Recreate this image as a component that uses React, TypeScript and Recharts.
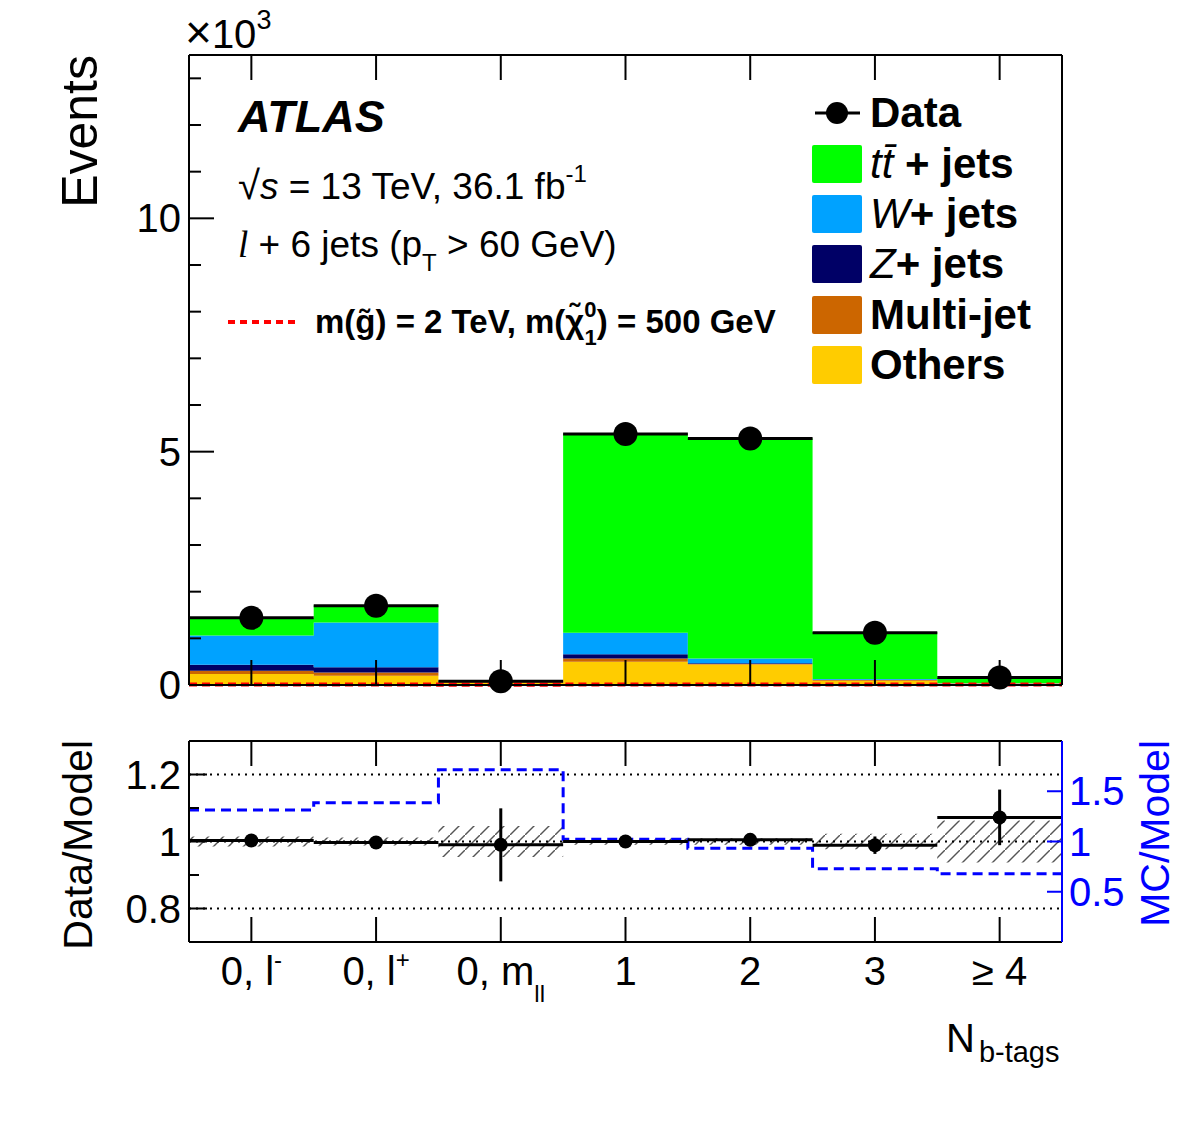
import React from "react";
import {
  ComposedChart,
  Area,
  Line,
  Scatter,
  ErrorBar,
  XAxis,
  YAxis,
  ReferenceLine,
} from "recharts";

const FONT = "'Liberation Sans', Arial, Helvetica, sans-serif";

// N b-tags categories: label text, superscript, subscript
const binLabels = ["0, l", "0, l", "0, m", "1", "2", "3", "\u2265 4"];
const binSup = ["-", "+", "", "", "", "", ""];
const binSub = ["", "", "ll", "", "", "", ""];

// stacked backgrounds, events x10^3
const others = [0.236, 0.2, 0.05, 0.5, 0.44, 0.09, 0.03];
const multijet = [0.071, 0.07, 0.015, 0.07, 0.01, 0.015, 0.005];
const zjets = [0.129, 0.109, 0.01, 0.087, 0.014, 0.005, 0.002];
const wjets = [0.624, 0.961, 0.01, 0.463, 0.106, 0.02, 0.005];
const ttbar = [0.37, 0.37, 0.008, 4.27, 4.72, 1.006, 0.115];
const dataObs = [1.44, 1.7, 0.08, 5.38, 5.28, 1.12, 0.16];
const signal = [0.012, 0.012, 0.006, 0.012, 0.012, 0.012, 0.012];

// ratio panel
const dataRatio = [1.003, 0.997, 0.99, 1.0, 1.005, 0.989, 1.072];
const dataRatioErr = [0.008, 0.007, 0.109, 0.004, 0.004, 0.026, 0.083];
const bandErr = [0.015, 0.012, 0.046, 0.01, 0.01, 0.023, 0.063];
const mcModel = [1.313, 1.385, 1.714, 1.023, 0.934, 0.73, 0.678];

// axis ticks
const eventTicks = [0, 1, 2, 3, 4, 5, 6, 7, 8, 9, 10, 11, 12, 13];
const eventMajor = [0, 5, 10];
const ratioTicks = [0.8, 0.9, 1, 1.1, 1.2];
const ratioMajor = [0.8, 1, 1.2];
const mcTicks = [0.5, 1, 1.5];

const stack = [
  { key: "others", name: "Others", color: "#ffcc00" },
  { key: "multijet", name: "Multi-jet", color: "#cc6600" },
  { key: "zjets", name: "Z", color: "#000066" },
  { key: "wjets", name: "W", color: "#00a2ff" },
  { key: "ttbar", name: "tt", color: "#00ff00" },
];

const nBins = binLabels.length;
const centers = binLabels.map((_, i) => i + 0.5);

// histogram rows at bin edges (last edge closes the step)
const histRows = Array.from({ length: nBins + 1 }, (_, k) => {
  const i = Math.min(k, nBins - 1);
  return {
    x: k,
    others: others[i],
    multijet: multijet[i],
    zjets: zjets[i],
    wjets: wjets[i],
    ttbar: ttbar[i],
    signal: signal[i],
    band: [1 - bandErr[i], 1 + bandErr[i]],
    mc: mcModel[i],
  };
});

const dataPts = centers.map((x, i) => ({ x, y: dataObs[i], xerr: 0.5 }));
const ratioPts = centers.map((x, i) => ({
  x,
  y: dataRatio[i],
  yerr: dataRatioErr[i],
  xerr: 0.5,
}));

const W = 1182;

const xTick = (len: number, down: boolean, label: boolean) => (p: any) => {
  const i = Math.floor(p.payload.value);
  return (
    <g>
      <line
        x1={p.x}
        x2={p.x}
        y1={p.y}
        y2={down ? p.y + len : p.y - len}
        stroke="#000"
        strokeWidth={2}
      />
      {label && (
        <text
          x={p.x}
          y={p.y + 43}
          textAnchor="middle"
          fontSize={40}
          fontFamily={FONT}
          fill="#000"
        >
          {binLabels[i]}
          {binSup[i] && (
            <tspan dy={-17} fontSize={24}>
              {binSup[i]}
            </tspan>
          )}
          {binSub[i] && (
            <tspan dy={17} fontSize={24}>
              {binSub[i]}
            </tspan>
          )}
        </text>
      )}
    </g>
  );
};

const yTick =
  (
    major: number[],
    lenMaj: number,
    lenMin: number,
    side: number,
    color: string,
    labels: boolean
  ) =>
  (p: any) => {
    const v = p.payload.value;
    const isMaj = major.some((m) => Math.abs(m - v) < 1e-6);
    const len = isMaj ? lenMaj : lenMin;
    return (
      <g>
        <line
          x1={p.x}
          x2={p.x + side * len}
          y1={p.y}
          y2={p.y}
          stroke={color}
          strokeWidth={2}
        />
        {labels && isMaj && (
          <text
            x={side === 1 ? p.x - 8 : p.x + 7}
            y={p.y + 14}
            textAnchor={side === 1 ? "end" : "start"}
            fontSize={40}
            fontFamily={FONT}
            fill={color}
          >
            {String(v)}
          </text>
        )}
      </g>
    );
  };

function TopPanel() {
  return (
    <ComposedChart
      width={W}
      height={715}
      data={histRows}
      margin={{ top: 25, right: 80, bottom: 0, left: 149 }}
    >
      <XAxis
        dataKey="x"
        type="number"
        domain={[0, nBins]}
        ticks={centers}
        interval={0}
        height={30}
        tickSize={0}
        tickMargin={0}
        tickLine={false}
        axisLine={{ stroke: "#000", strokeWidth: 2 }}
        tick={xTick(25, false, false)}
      />
      <XAxis
        xAxisId="top"
        orientation="top"
        dataKey="x"
        type="number"
        domain={[0, nBins]}
        ticks={centers}
        interval={0}
        height={30}
        tickSize={0}
        tickMargin={0}
        tickLine={false}
        axisLine={{ stroke: "#000", strokeWidth: 2 }}
        tick={xTick(25, true, false)}
      />
      <YAxis
        yAxisId="left"
        domain={[0, 13.5]}
        ticks={eventTicks}
        interval={0}
        width={40}
        tickSize={0}
        tickMargin={0}
        tickLine={false}
        axisLine={{ stroke: "#000", strokeWidth: 2 }}
        tick={yTick(eventMajor, 25, 12, 1, "#000", true)}
      />
      <YAxis
        yAxisId="right"
        orientation="right"
        domain={[0, 13.5]}
        ticks={eventTicks}
        interval={0}
        width={40}
        tickSize={0}
        tickMargin={0}
        tickLine={false}
        axisLine={{ stroke: "#000", strokeWidth: 2 }}
        tick={yTick(eventMajor, 20, 10, -1, "#000", false)}
      />
      {stack.map((s) => (
        <Area
          key={s.key}
          yAxisId="left"
          type="stepAfter"
          dataKey={s.key}
          stackId="mc"
          fill={s.color}
          fillOpacity={1}
          stroke="none"
          isAnimationActive={false}
        />
      ))}
      <Line
        yAxisId="left"
        type="stepAfter"
        dataKey="signal"
        stroke="#ff0000"
        strokeWidth={4}
        strokeDasharray="8 5"
        dot={false}
        isAnimationActive={false}
      />
      <Scatter
        yAxisId="left"
        data={dataPts}
        dataKey="y"
        isAnimationActive={false}
        shape={(p: any) => <circle cx={p.cx} cy={p.cy} r={12} fill="#000" />}
      >
        <ErrorBar
          dataKey="xerr"
          direction="x"
          width={0}
          stroke="#000"
          strokeWidth={3}
        />
      </Scatter>
    </ComposedChart>
  );
}

function RatioPanel() {
  return (
    <ComposedChart
      width={W}
      height={408}
      data={histRows}
      margin={{ top: 0, right: 80, bottom: 121, left: 149 }}
    >
      <XAxis
        dataKey="x"
        type="number"
        domain={[0, nBins]}
        ticks={centers}
        interval={0}
        height={60}
        tickSize={0}
        tickMargin={0}
        tickLine={false}
        axisLine={{ stroke: "#000", strokeWidth: 2 }}
        tick={xTick(25, false, true)}
      />
      <XAxis
        xAxisId="top"
        orientation="top"
        dataKey="x"
        type="number"
        domain={[0, nBins]}
        ticks={centers}
        interval={0}
        height={26}
        tickSize={0}
        tickMargin={0}
        tickLine={false}
        axisLine={{ stroke: "#000", strokeWidth: 2 }}
        tick={xTick(25, true, false)}
      />
      <YAxis
        yAxisId="left"
        domain={[0.7, 1.3]}
        ticks={ratioTicks}
        interval={0}
        width={40}
        tickSize={0}
        tickMargin={0}
        tickLine={false}
        axisLine={{ stroke: "#000", strokeWidth: 2 }}
        tick={yTick(ratioMajor, 18, 10, 1, "#000", true)}
      />
      <YAxis
        yAxisId="right"
        orientation="right"
        domain={[0, 2]}
        ticks={mcTicks}
        interval={0}
        width={40}
        tickSize={0}
        tickMargin={0}
        tickLine={false}
        axisLine={{ stroke: "#0000ff", strokeWidth: 2 }}
        tick={yTick(mcTicks, 15, 15, -1, "#0000ff", true)}
      />
      <Area
        yAxisId="left"
        type="stepAfter"
        dataKey="band"
        fill="url(#hatch)"
        fillOpacity={1}
        stroke="none"
        isAnimationActive={false}
      />
      {ratioMajor.map((v) => (
        <ReferenceLine
          key={v}
          yAxisId="left"
          y={v}
          stroke="#000"
          strokeWidth={2}
          strokeDasharray="2 5"
        />
      ))}
      <Line
        yAxisId="right"
        type="stepAfter"
        dataKey="mc"
        stroke="#0000ff"
        strokeWidth={3}
        strokeDasharray="10 6"
        dot={false}
        isAnimationActive={false}
      />
      <Scatter
        yAxisId="left"
        data={ratioPts}
        dataKey="y"
        isAnimationActive={false}
        shape={(p: any) => <circle cx={p.cx} cy={p.cy} r={7} fill="#000" />}
      >
        <ErrorBar
          dataKey="xerr"
          direction="x"
          width={0}
          stroke="#000"
          strokeWidth={3}
        />
        <ErrorBar
          dataKey="yerr"
          direction="y"
          width={0}
          stroke="#000"
          strokeWidth={3}
        />
      </Scatter>
    </ComposedChart>
  );
}

function Overlay() {
  const legendX = 812;
  const rowY = [113, 164, 214, 264, 315, 365];
  const boxes = [...stack].reverse();
  return (
    <svg
      width={W}
      height={1123}
      style={{ position: "absolute", left: 0, top: 0, pointerEvents: "none" }}
      fontFamily={FONT}
    >
      <defs>
        <pattern
          id="hatch"
          patternUnits="userSpaceOnUse"
          width={15}
          height={15}
        >
          <path d="M-2,17 L17,-2" stroke="#555" strokeWidth={1.4} />
        </pattern>
      </defs>
      <text x={185} y={48} fontSize={40}>
        <tspan fontSize={46}>{"\u00d7"}</tspan>
        {"10"}
        <tspan dy={-19} fontSize={27}>
          3
        </tspan>
      </text>
      <text
        transform="translate(97,55) rotate(-90)"
        textAnchor="end"
        fontSize={50}
      >
        Events
      </text>
      <text
        x={238}
        y={132}
        fontSize={45}
        fontWeight="bold"
        fontStyle="italic"
      >
        ATLAS
      </text>
      <text x={238} y={199} fontSize={37}>
        <tspan fontSize={40}>{"\u221a"}</tspan>
        <tspan fontStyle="italic">s</tspan>
        {" = 13 TeV, 36.1 fb"}
        <tspan dy={-17} fontSize={24}>
          -1
        </tspan>
      </text>
      <text x={238} y={257} fontSize={37}>
        <tspan fontStyle="italic" fontFamily="'Liberation Serif', serif">
          l
        </tspan>
        {" + 6 jets (p"}
        <tspan dy={14} fontSize={24}>
          T
        </tspan>
        <tspan dy={-14}>{" > 60 GeV)"}</tspan>
      </text>
      <line
        x1={228}
        x2={298}
        y1={322}
        y2={322}
        stroke="#ff0000"
        strokeWidth={4}
        strokeDasharray="7 5"
      />
      <text x={315} y={333} fontSize={33} fontWeight="bold">
        {"m(g\u0303) = 2 TeV, m(\u03c7\u0303"}
        <tspan dy={-16} fontSize={22}>
          0
        </tspan>
        <tspan dx={-12} dy={28} fontSize={22}>
          1
        </tspan>
        <tspan dy={-12}>{") = 500 GeV"}</tspan>
      </text>

      {/* legend */}
      <line
        x1={legendX + 3}
        x2={legendX + 48}
        y1={rowY[0]}
        y2={rowY[0]}
        stroke="#000"
        strokeWidth={3}
      />
      <circle cx={legendX + 25} cy={rowY[0]} r={11} fill="#000" />
      <text x={870} y={rowY[0] + 14} fontSize={42} fontWeight="bold">
        Data
      </text>
      {boxes.map((s, j) => {
        const cy = rowY[j + 1];
        let label: React.ReactNode = s.name;
        if (s.key === "ttbar")
          label = (
            <>
              <tspan fontStyle="italic" fontWeight="normal">
                {"tt\u0304"}
              </tspan>
              {" + jets"}
            </>
          );
        if (s.key === "wjets" || s.key === "zjets")
          label = (
            <>
              <tspan fontStyle="italic" fontWeight="normal">
                {s.name}
              </tspan>
              {"+ jets"}
            </>
          );
        return (
          <g key={s.key}>
            <rect
              x={legendX}
              y={cy - 19}
              width={50}
              height={38}
              rx={2}
              fill={s.color}
            />
            <text x={870} y={cy + 14} fontSize={42} fontWeight="bold">
              {label}
            </text>
          </g>
        );
      })}

      <text
        transform="translate(92,740) rotate(-90)"
        textAnchor="end"
        fontSize={41}
      >
        Data/Model
      </text>
      <text
        transform="translate(1169,740) rotate(-90)"
        textAnchor="end"
        fontSize={41}
        fill="#0000ff"
      >
        MC/Model
      </text>
      <text x={946} y={1052} fontSize={40}>
        N
        <tspan dx={4} dy={10} fontSize={29}>
          b-tags
        </tspan>
      </text>
    </svg>
  );
}

export default function App() {
  return (
    <div
      style={{
        position: "absolute",
        left: 0,
        top: 0,
        width: W,
        height: 1123,
        background: "#fff",
        fontFamily: FONT,
      }}
    >
      <div style={{ position: "absolute", left: 0, top: 0 }}>
        <TopPanel />
      </div>
      <div style={{ position: "absolute", left: 0, top: 715 }}>
        <RatioPanel />
      </div>
      <Overlay />
    </div>
  );
}
